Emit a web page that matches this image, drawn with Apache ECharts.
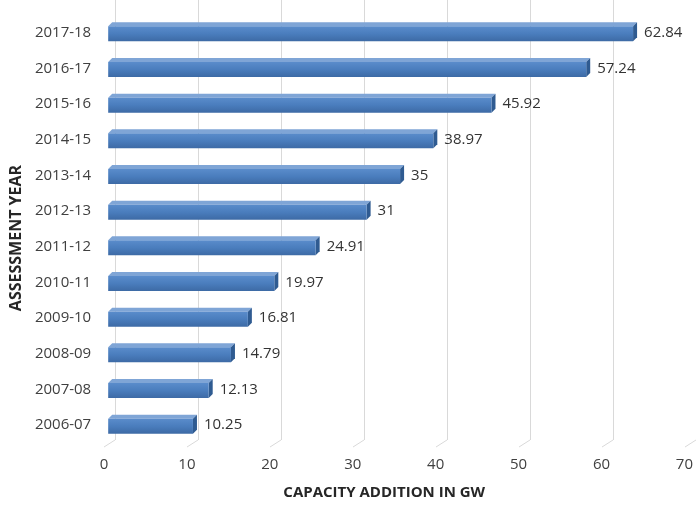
<!DOCTYPE html>
<html>
<head>
<meta charset="utf-8">
<script src="https://cdn.jsdelivr.net/npm/echarts@6/dist/echarts.min.js"></script>
<style>
  html, body { margin: 0; padding: 0; background: #fff; }
  #main { width: 696px; height: 505px; }
</style>
</head>
<body>
<div id="main"></div>
<script>
var years = ['2006-07', '2007-08', '2008-09', '2009-10', '2010-11', '2011-12',
             '2012-13', '2013-14', '2014-15', '2015-16', '2016-17', '2017-18'];
var capacity = [10.25, 12.13, 14.79, 16.81, 19.97, 24.91, 31, 35, 38.97, 45.92, 57.24, 62.84];
var xTicks = [0, 10, 20, 30, 40, 50, 60, 70];

var font = '"Open Sans", "Liberation Sans", sans-serif';

// 3D-ish bar: front face, top face, right face
function renderBar(params, api) {
  var val = api.value(0);
  var idx = api.value(1);
  var s = api.coord([0, idx]);
  var e = api.coord([val, idx]);
  var h = 15, d = 4;
  var top = s[1] - h / 2 + 1;
  var x0 = s[0] + 1, x1 = e[0];
  return {
    type: 'group',
    children: [
      { // top face
        type: 'polygon',
        shape: { points: [[x0, top], [x0 + d, top - d], [x1 + d, top - d], [x1, top]] },
        style: { fill: '#7fa5d6' }
      },
      { // right face
        type: 'polygon',
        shape: { points: [[x1, top], [x1 + d, top - d], [x1 + d, top + h - d], [x1, top + h]] },
        style: { fill: '#2f5b91' }
      },
      { // front face
        type: 'rect',
        shape: { x: x0, y: top, width: x1 - x0, height: h },
        style: {
          fill: new echarts.graphic.LinearGradient(0, 0, 0, 1, [
            { offset: 0, color: '#5a8ccb' },
            { offset: 0.5, color: '#4a7dbd' },
            { offset: 1, color: '#3d6aa5' }
          ])
        }
      },
      {
        type: 'text',
        style: {
          x: x1 + d + 7, y: s[1],
          text: String(val),
          fill: '#333',
          font: '15px ' + font,
          verticalAlign: 'middle'
        }
      }
    ]
  };
}

// floor diagonals under the back grid lines
function renderFloor(params, api) {
  var p = api.coord([api.value(0), 0]);
  return {
    type: 'line',
    shape: { x1: p[0], y1: p[1], x2: p[0] - 11, y2: p[1] + 7 },
    style: { stroke: '#d9d9d9', lineWidth: 1 }
  };
}

var chart = echarts.init(document.getElementById('main'));
chart.setOption({
  animation: false,
  grid: [
    { left: 104, right: 3, top: 15, bottom: 62 },   // bars
    { left: 115, right: -3, top: 0, bottom: 65 },   // back wall grid lines
    { left: 104, right: 9, top: 15, bottom: 62 }    // front tick labels
  ],
  xAxis: [
    {
      gridIndex: 0, type: 'value', min: 0, max: 70, interval: 10, show: false
    },
    {
      gridIndex: 1, type: 'value', min: 0, max: 70, interval: 10,
      axisLine: { show: false }, axisTick: { show: false }, axisLabel: { show: false },
      splitLine: { show: true, lineStyle: { color: '#d9d9d9', width: 1 } }
    },
    {
      gridIndex: 2, type: 'value', min: 0, max: 70, interval: 10,
      axisLine: { show: false }, axisTick: { show: false }, splitLine: { show: false },
      axisLabel: { color: '#404040', fontSize: 15, fontFamily: font, margin: 14 },
      name: 'CAPACITY ADDITION IN GW', nameLocation: 'middle', nameGap: 42,
      nameTextStyle: { color: '#262626', fontSize: 15, fontWeight: 'bold', fontFamily: font, padding: [0, 20, 0, 0] }
    }
  ],
  yAxis: [
    {
      gridIndex: 0, type: 'category', data: years,
      axisLine: { show: false }, axisTick: { show: false },
      axisLabel: { color: '#404040', fontSize: 15, fontFamily: font, margin: 16 },
      name: 'ASSESSMENT YEAR', nameLocation: 'middle', nameGap: 80, nameRotate: 90,
      nameTextStyle: { color: '#262626', fontSize: 16, fontWeight: 'bold', fontFamily: font, padding: [0, 18, 0, 0] }
    },
    { gridIndex: 1, type: 'value', min: 0, max: 1, show: false },
    { gridIndex: 2, type: 'value', show: false }
  ],
  series: [
    {
      type: 'custom',
      xAxisIndex: 1, yAxisIndex: 1,
      renderItem: renderFloor,
      encode: { x: 0 },
      data: xTicks.map(function (t) { return [t]; }),
      z: 1
    },
    {
      type: 'custom',
      xAxisIndex: 0, yAxisIndex: 0,
      renderItem: renderBar,
      encode: { x: 0, y: 1 },
      data: capacity.map(function (v, i) { return [v, i]; }),
      z: 5
    }
  ]
});
</script>
</body>
</html>
